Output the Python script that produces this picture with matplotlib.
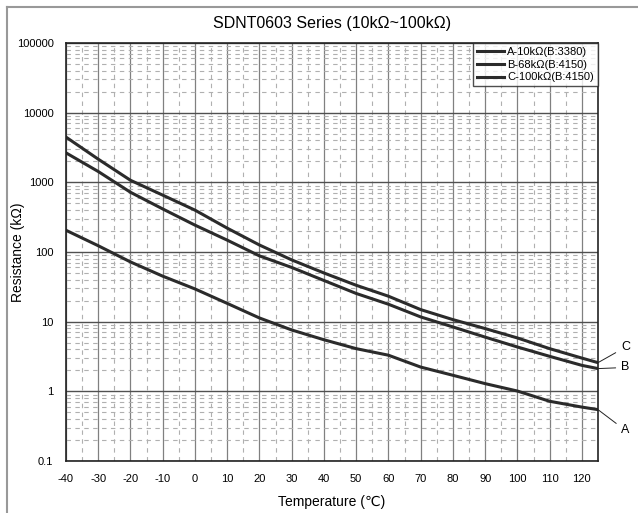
import matplotlib
matplotlib.use("Agg")
from matplotlib import pyplot as plt
from matplotlib.lines import Line2D
from matplotlib.ticker import FixedLocator, NullFormatter

plt.rcParams["font.family"] = ["Liberation Sans", "DejaVu Sans"]

temps = [-40, -30, -20, -10, 0, 10, 20, 30, 40, 50, 60, 70, 80, 90, 100, 110, 120, 125]
res_a = [205, 123, 72, 45, 29.5, 18.3, 11.3, 7.6, 5.5, 4.1, 3.3, 2.23, 1.70, 1.29, 1.01, 0.72, 0.594, 0.546]
res_b = [2650, 1430, 720, 415, 243, 148, 88, 60, 39, 25.4, 17.8, 11.7, 8.4, 6.0, 4.33, 3.18, 2.36, 2.12]
res_c = [4460, 2150, 1070, 655, 399, 220, 126, 77, 50, 33.3, 23.2, 14.9, 10.7, 7.96, 5.84, 4.1, 3.0, 2.58]
labels = ["A-10kΩ(B:3380)", "B-68kΩ(B:4150)", "C-100kΩ(B:4150)"]
xticks = list(range(-40, 121, 10))
yticks = [0.1, 1, 10, 100, 1000, 10000, 100000]
ytick_labels = ["0.1", "1", "10", "100", "1000", "10000", "100000"]

fig = plt.figure(figsize=(6.38, 5.13), dpi=100)
# gray frame lines at top and left of the picture
fig.lines.append(Line2D([7 / 638, 7 / 638], [0, 506 / 513], transform=fig.transFigure,
                        color="#999999", linewidth=1.5))
fig.lines.append(Line2D([7 / 638, 1], [506 / 513, 506 / 513], transform=fig.transFigure,
                        color="#999999", linewidth=1.5))
ax = fig.add_axes([66 / 638, 52 / 513, 532 / 638, 418 / 513])

ax.set_yscale("log")
ax.set_xlim(-40, 125)
ax.set_ylim(0.1, 100000)

# grid
minor_y = [m * 10 ** e for e in range(-1, 5) for m in range(2, 10)]
ax.yaxis.set_minor_locator(FixedLocator(minor_y))
ax.yaxis.set_minor_formatter(NullFormatter())
ax.xaxis.set_minor_locator(FixedLocator(list(range(-35, 125, 10))))
ax.grid(which="minor", axis="both", color="#b0b0b0", linestyle=(0, (4, 4)), linewidth=0.8)
ax.grid(which="major", axis="x", color="#808080", linestyle="-", linewidth=0.9)
ax.grid(which="major", axis="y", color="#505050", linestyle="-", linewidth=1.0)
ax.set_axisbelow(True)

ax.set_xticks(xticks)
ax.set_xticklabels([str(t) for t in xticks], fontsize=8)
ax.set_yticks(yticks)
ax.set_yticklabels(ytick_labels, fontsize=8)
ax.tick_params(which="both", length=0, pad=9)

for s in ax.spines.values():
    s.set_color("#222222")
    s.set_linewidth(1.2)

for vals, lab in zip([res_a, res_b, res_c], labels):
    ax.plot(temps, vals, color="#2b2b2b", linewidth=2.2, label=lab)

leg = ax.legend(loc="upper right", fontsize=8, frameon=True, fancybox=False, borderaxespad=0,
                handlelength=2.4, handletextpad=0.3, labelspacing=0.25, borderpad=0.35)
leg.get_frame().set_edgecolor("#222222")
leg.get_frame().set_linewidth(1.0)

# curve labels with leader lines
for vals, name, ty in zip([res_a, res_b, res_c], ["A", "B", "C"], [0.275, 2.2, 4.3]):
    ax.annotate(name, xy=(125, vals[-1]), xytext=(133.5, ty),
                fontsize=9, ha="center", va="center", annotation_clip=False,
                arrowprops=dict(arrowstyle="-", color="#222222", linewidth=0.7,
                                shrinkA=2, shrinkB=0))

ax.set_title("SDNT0603 Series (10kΩ~100kΩ)", fontsize=11.5, pad=11)
ax.set_xlabel("Temperature (℃)", fontsize=10, labelpad=8)
fig.text(18 / 638, 0.5 * (52 + 470) / 513, "Resistance (kΩ)", rotation=90,
         fontsize=10, ha="center", va="center")

fig.savefig("out.png", dpi=100)
